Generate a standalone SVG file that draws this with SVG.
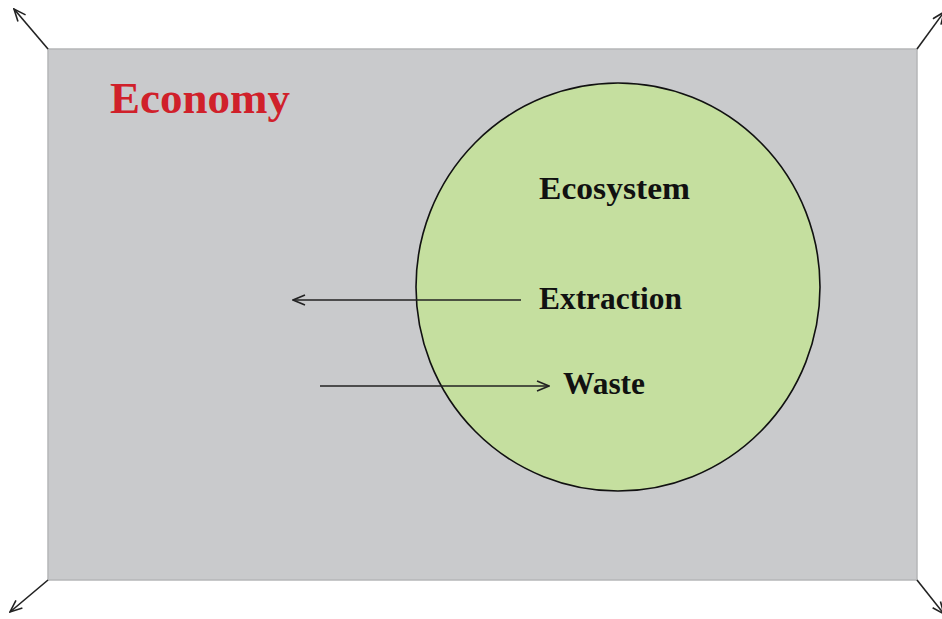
<svg xmlns="http://www.w3.org/2000/svg" width="942" height="619" viewBox="0 0 942 619">
<defs>
<style>
.lbl{font-family:"Liberation Serif","Times New Roman",serif;font-weight:bold;font-size:32px;fill:#111}
.conn{stroke:#222;stroke-width:1.6;fill:none;marker-end:url(#ah)}
</style>
<marker id="ah" viewBox="0 0 14 12" refX="13" refY="6" markerWidth="14" markerHeight="12" markerUnits="userSpaceOnUse" orient="auto">
<polyline points="1,1 13,6 1,11" fill="none" stroke="#222" stroke-width="1.6"/>
</marker>
</defs>
<rect width="942" height="619" fill="#ffffff"/>
<g id="economy">
<rect x="48" y="49" width="869" height="531" fill="#c9cacc" stroke="#b5b6b8" stroke-width="1.5"/>
<text x="110" y="113" textLength="180" lengthAdjust="spacingAndGlyphs" style="font-family:'Liberation Serif','Times New Roman',serif;font-weight:bold;font-size:44px;fill:#d0202a">Economy</text>
</g>
<g id="ecosystem">
<ellipse cx="618" cy="287" rx="202" ry="204" fill="#c5df9f" stroke="#111" stroke-width="1.6"/>
<text class="lbl" x="539" y="199" textLength="151" lengthAdjust="spacingAndGlyphs">Ecosystem</text>
</g>
<g id="extraction"><text class="lbl" x="539" y="309" textLength="143" lengthAdjust="spacingAndGlyphs">Extraction</text></g>
<g id="waste"><text class="lbl" x="563" y="394" textLength="82" lengthAdjust="spacingAndGlyphs">Waste</text></g>
<g id="connectors">
<line class="conn" x1="521" y1="300" x2="293" y2="300"/>
<line class="conn" x1="320" y1="386" x2="549" y2="386"/>
<line class="conn" x1="48" y1="49" x2="14" y2="9"/>
<line class="conn" x1="917" y1="49" x2="944" y2="12"/>
<line class="conn" x1="48" y1="580" x2="10" y2="612"/>
<line class="conn" x1="917" y1="580" x2="944" y2="614"/>
</g>
</svg>
